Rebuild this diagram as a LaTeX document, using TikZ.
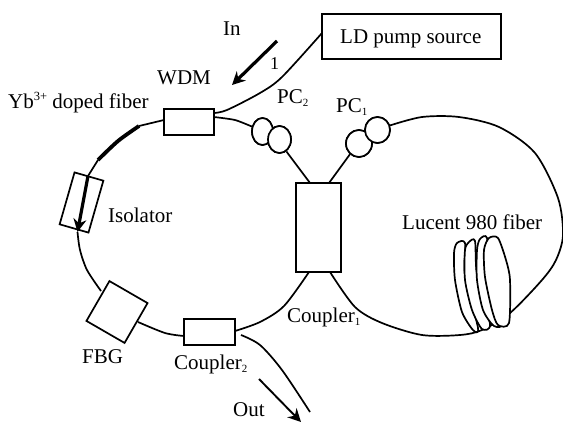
\documentclass[tikz,border=0pt]{standalone}
\usepackage{fontspec}
\setmainfont{Liberation Serif}
\usetikzlibrary{shapes.geometric,arrows.meta}
\newcommand{\lowsub}[1]{\raisebox{-3.5pt}{\fontsize{11}{11}\selectfont #1}}
\newcommand{\highsup}[1]{\raisebox{7.5pt}{\fontsize{12.5}{12.5}\selectfont #1}}
\tikzset{
  box/.style={draw=black,line width=1.9pt,fill=white,minimum width=#1,inner sep=0pt},
  rbox/.style={draw=black,line width=1.7pt,fill=white,inner sep=0pt},
  pc/.style={ellipse,draw=black,line width=1.7pt,fill=white,inner sep=0pt},
  lab/.style={anchor=base west,inner sep=0pt,font=\fontsize{21}{24}\selectfont},
  fib/.style={line width=1.7pt,line join=round},
  heavy/.style={line width=3.8pt},
  coil/.style={draw=black,line width=1.7pt,fill=white,line join=round},
  bigarrow/.style={line width=3.2pt,-{Stealth[length=13pt,width=13pt]}}
}
\begin{document}
\begin{tikzpicture}[x=1pt,y=-1pt]
\useasboundingbox (0,0) rectangle (563,421);
% components
\node[box=50pt,minimum height=26pt] (wdm) at (189,122) {};
\node[box=179pt,minimum height=45pt] (ld) at (411.5,36.5) {};
\node[box=45pt,minimum height=89pt] (c1) at (318.5,227.5) {};
\node[box=51pt,minimum height=26pt] (c2) at (209.5,332) {};
\node[rbox,minimum width=44pt,minimum height=46pt,rotate=-30] (fbg) at (117,312) {};
\node[rbox,minimum width=30pt,minimum height=54pt,rotate=-16] (iso) at (81.5,202.5) {};
\node[pc,minimum width=21pt,minimum height=27pt] (pca) at (262.5,131.5) {};
\node[pc,minimum width=23pt,minimum height=27pt] (pcb) at (279.5,139.5) {};
\node[pc,minimum width=26pt,minimum height=27pt] (pcc) at (359,143.5) {};
\node[pc,minimum width=25pt,minimum height=26pt] (pcd) at (377.5,130) {};
\coordinate (wl) at (164,120);
\coordinate (lw) at (214,113);
\coordinate (ld2) at (322,33);
\coordinate (wr) at (214,117);
\coordinate (hs) at (139,126);
\coordinate (he) at (98,160);
\coordinate (it) at (88,176);
\coordinate (ib) at (77.5,232);
\coordinate (f1) at (101,291);
\coordinate (f2) at (138,322);
\coordinate (c2l) at (184,336);
\coordinate (c2r) at (235,331);
\coordinate (c1bl) at (309,272);
\coordinate (c1br) at (330,272);
\coordinate (c1tl) at (310,183);
\coordinate (c1tr) at (329,183);
\coordinate (o1) at (241,335);
\coordinate (o2) at (310,412);
\coordinate (o3) at (259,379);
\coordinate (o4) at (301,422);
\coordinate (ina) at (277,41);
\coordinate (inb) at (232,85);
% fibres
\draw[fib] (wl) -- (hs);
\draw[fib,heavy] plot[smooth] coordinates {(hs) (118,141) (he)};
\draw[fib] (he) -- (it);
\draw[bigarrow] (it) -- (ib);
\draw[fib] plot[smooth] coordinates {(ib) (80,250) (87,270) (f1)};
\draw[fib] plot[smooth] coordinates {(f2) (165,333) (c2l)};
\draw[fib] plot[smooth] coordinates {(c2r) (260,322) (284,306) (c1bl)};
\draw[fib] plot[smooth] coordinates {(lw) (227,110) (260,93) (282,77) (ld2)};
\draw[fib] plot[smooth,tension=0.4] coordinates {(wr) (235,120) (pca.155)};
\draw[fib] (pcb.300) -- (c1tl);
\draw[fib] (c1tr) -- (pcc.230);
\draw[fib] plot[smooth] coordinates {(pcd.20) (422,117) (459,117) (499,127) (535,153) (558,198) (563,235) (556,260) (542,280) (510,313) (482,330) (460,335) (422,335) (382,323) (355,307) (c1br)};
\draw[fib] plot[smooth] coordinates {(o1) (260,345) (282,370) (o2)};
\draw[bigarrow,line width=1.9pt] (o3) -- (o4);
\draw[bigarrow] (ina) -- (inb);
% coil
\draw[coil] plot[smooth cycle,tension=0.45] coordinates {(457,243) (465,243) (465,275) (478,328) (473,330) (462,312) (455,280) (454,253)};
\draw[coil] plot[smooth cycle,tension=0.45] coordinates {(469,242) (475,241) (477,275) (490,324) (482,329) (472,310) (465,280) (465,250)};
\draw[coil] plot[smooth cycle,tension=0.45] coordinates {(480,239) (487,238) (490,275) (503,322) (494,326) (483,310) (477,280) (477,250)};
\draw[coil] plot[smooth cycle,tension=0.45] coordinates {(489,238) (498,238) (506,260) (510,280) (509,323) (498,325) (492,310) (485,277) (484,250)};
% components on top of the fibres
\node[box=50pt,minimum height=26pt] at (wdm) {};
\node[pc,minimum width=21pt,minimum height=27pt] at (pca) {};
\node[pc,minimum width=23pt,minimum height=27pt] at (pcb) {};
\node[pc,minimum width=26pt,minimum height=27pt] at (pcc) {};
\node[pc,minimum width=25pt,minimum height=26pt] at (pcd) {};
% labels
\node[lab] (tin) at (223,35) {In};
\node[lab,font=\fontsize{18}{20}\selectfont] (tone) at (270,69) {1};
\node[lab] (twdm) at (157,84) {WDM};
\node[lab] (tyb) at (8,108) {Yb\highsup{3+} doped fiber};
\node[lab] (tpc2) at (277,103) {PC\lowsub{2}};
\node[lab] (tpc1) at (336,112) {PC\lowsub{1}};
\node[lab] (tld) at (340,43) {LD pump source};
\node[lab] (tiso) at (108,222) {Isolator};
\node[lab] (tluc) at (402,229) {Lucent 980 fiber};
\node[lab] (tfbg) at (82,363) {FBG};
\node[lab] (tc2) at (174,369) {Coupler\lowsub{2}};
\node[lab] (tc1) at (287,322) {Coupler\lowsub{1}};
\node[lab] (tout) at (233,416) {Out};
\end{tikzpicture}
\end{document}
